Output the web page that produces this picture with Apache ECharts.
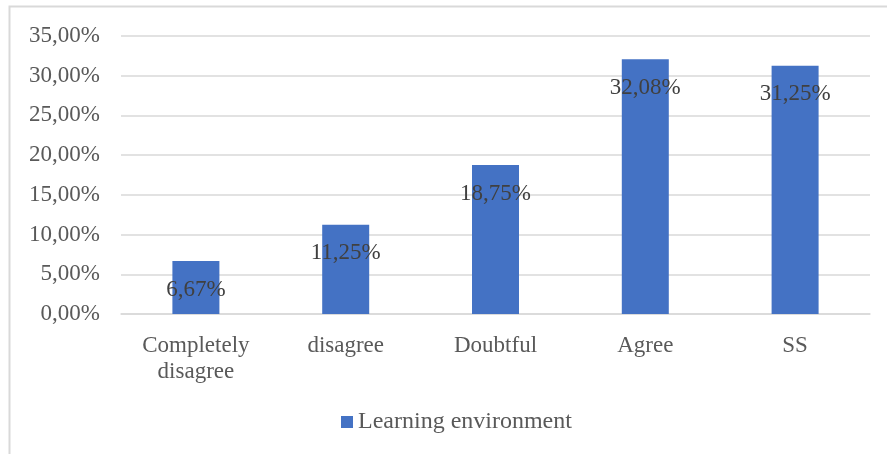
<!DOCTYPE html>
<html>
<head>
<meta charset="utf-8">
<script src="https://cdn.jsdelivr.net/npm/echarts@6/dist/echarts.min.js"></script>
<style>html,body{margin:0;padding:0;background:#fff;}#c{width:887px;height:454px;}</style>
</head>
<body>
<div id="c"></div>
<script>
const categories = ['Completely\ndisagree', 'disagree', 'Doubtful', 'Agree', 'SS'];
const seriesName = 'Learning environment';
const values = [6.67, 11.25, 18.75, 32.08, 31.25];
const yMin = 0, yMax = 35, yInterval = 5;

const fmt = v => Number(v).toFixed(2).replace('.', ',') + '%';
const FONT = "'Liberation Serif', 'Times New Roman', serif";

const chart = echarts.init(document.getElementById('c'));
chart.setOption({
  animation: false,
  textStyle: { fontFamily: FONT },
  graphic: [{
    type: 'rect', silent: true,
    shape: { x: 9.5, y: 6.5, width: 1000, height: 1000 },
    style: { fill: 'none', stroke: '#d9d9d9', lineWidth: 2 }
  }],
  grid: { left: 121, right: 17, top: 36, bottom: 140 },
  legend: {
    data: [seriesName],
    bottom: 15,
    left: 336,
    icon: 'rect',
    itemWidth: 12, itemHeight: 12, itemGap: 6,
    textStyle: { fontFamily: FONT, fontSize: 24, color: '#595959' }
  },
  xAxis: {
    type: 'category',
    data: categories,
    axisLine: { lineStyle: { color: '#d9d9d9', width: 1.5 } },
    axisTick: { show: false },
    axisLabel: { fontFamily: FONT, fontSize: 23, color: '#595959', lineHeight: 26, margin: 19, interval: 0 }
  },
  yAxis: {
    type: 'value',
    min: yMin, max: yMax, interval: yInterval,
    axisLine: { show: false },
    axisTick: { show: false },
    splitLine: { lineStyle: { color: '#d9d9d9', width: 1.5 } },
    axisLabel: { fontFamily: FONT, fontSize: 23, color: '#595959', margin: 21, formatter: fmt }
  },
  series: [{
    name: seriesName,
    type: 'bar',
    data: values,
    barWidth: 47,
    itemStyle: { color: '#4472C4' },
    label: {
      show: true,
      position: 'insideTop',
      distance: 17,
      fontFamily: FONT, fontSize: 23, color: '#404040',
      formatter: p => fmt(p.value)
    }
  }]
});
</script>
</body>
</html>
